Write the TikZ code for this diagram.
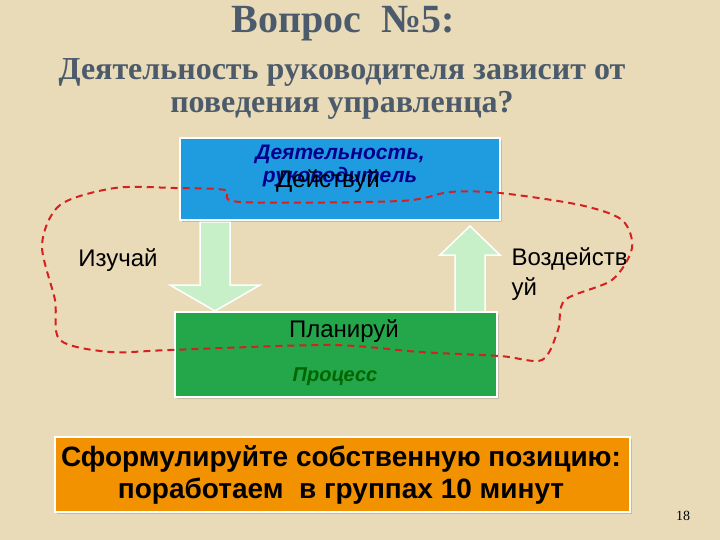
\documentclass[tikz,border=0pt]{standalone}
\usepackage{fontspec}
\setmainfont{Liberation Serif}
\newfontfamily\arial{Liberation Sans}
\usetikzlibrary{shadows}
\definecolor{bg}{HTML}{E9DBB8}
\definecolor{ttl}{HTML}{4C5B6B}
\definecolor{bluebox}{HTML}{1F9CE0}
\definecolor{greenbox}{HTML}{24A64B}
\definecolor{orangebox}{HTML}{F39200}
\definecolor{arrowfill}{HTML}{C8F0C8}
\definecolor{dashred}{HTML}{D42020}
\begin{document}
\begin{tikzpicture}[x=1pt,y=-1pt,
  box/.style={draw=white,line width=2pt,drop shadow={opacity=0.35}},
  ttlstyle/.style={text=ttl,font=\bfseries,align=center},
  lbl/.style={font=\arial,anchor=west}]
\fill[bg] (0,0) rectangle (720,540);
\useasboundingbox (0,0) rectangle (720,540);
\node[ttlstyle,font=\fontsize{40}{44}\selectfont\bfseries] (t1) at (343,24) {Вопрос \ №5:};
\node[ttlstyle,font=\fontsize{32}{33}\selectfont\bfseries] (t2) at (342,89) {Деятельность руководителя зависит от\\поведения управленца?};
% arrows
\draw[white,line width=1.5pt,fill=arrowfill] (200,222) -- (230,222) -- (230,285) -- (260,285) -- (215,311) -- (170,285) -- (200,285) -- cycle;
\draw[white,line width=1.5pt,fill=arrowfill] (455,312) -- (485,312) -- (485,255) -- (500,255) -- (470,226) -- (440,255) -- (455,255) -- cycle;
\node[box,fill=bluebox,minimum width=320pt,minimum height=82pt,inner sep=0pt] (blue) at (340,179) {};
\node[box,fill=greenbox,minimum width=322pt,minimum height=85pt,inner sep=0pt] (green) at (336,354.5) {};
\node[font=\arial\bfseries\itshape\fontsize{21}{23}\selectfont,text=blue!55!black,align=center] (b1) at (340,166) {Деятельность,\\руководитель};
\node[font=\arial\fontsize{24}{26}\selectfont] (b2) at (328,181) {Действуй};
\node[font=\arial\fontsize{24}{26}\selectfont] (g1) at (344,331) {Планируй};
\node[font=\arial\bfseries\itshape\fontsize{20}{22}\selectfont,text=green!40!black] (g2) at (335,377) {Процесс};
\node[font=\arial\fontsize{24}{26}\selectfont] (l1) at (118,260) {Изучай};
\node[lbl,font=\arial\fontsize{24}{30}\selectfont,align=left] (l2) at (508,274) {Воздейств\\уй};
\node[box,fill=orangebox,minimum width=575pt,minimum height=75pt,inner sep=0pt] (orange) at (342.5,474.5) {};
\node[font=\arial\bfseries\fontsize{28}{32}\selectfont,align=center] (o1) at (341,475) {Сформулируйте собственную позицию:\\поработаем \ в группах 10 минут};
\node[font=\fontsize{14}{14}\selectfont] (n18) at (683,516) {18};
\draw[dashred,line width=2pt,dash pattern=on 7pt off 5pt] plot[smooth cycle,tension=0.5] coordinates{
 (115,188) (60,205) (42,245) (55,300) (60,340) (110,352) (170,350) (330,345) (420,352) (500,356) (542,360) (558,330) (565,300) (612,280) (632,248) (622,220) (580,205) (500,193) (450,192) (400,201) (240,202) (225,190) (175,188)};
\end{tikzpicture}
\end{document}
